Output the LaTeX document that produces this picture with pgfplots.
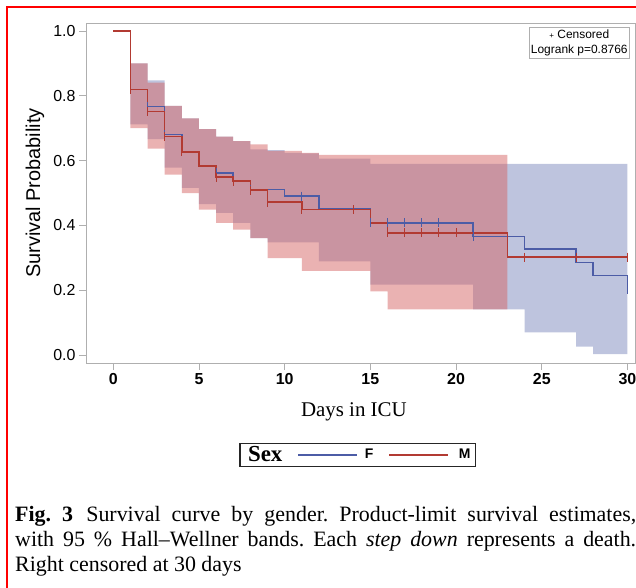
\documentclass[border=0pt]{standalone}
\usepackage{fontspec}
\setmainfont{Liberation Serif}
\setsansfont{Liberation Sans}
\usepackage{pgfplots}
\pgfplotsset{compat=1.18}

\definecolor{fline}{RGB}{76,92,166}
\definecolor{mline}{RGB}{178,58,50}
\definecolor{fband}{RGB}{125,137,189}
\definecolor{mband}{RGB}{213,101,101}
\definecolor{framegray}{RGB}{175,175,175}

\begin{document}
\begin{tikzpicture}
\path[use as bounding box] (0,0) rectangle (636bp,-588bp);
% red frame of the figure (top and left only)
\draw[red, line width=2bp] (7bp,-588bp) -- (7bp,-7bp) -- (636bp,-7bp);

\begin{axis}[
    at={(86bp,-363bp)}, anchor=south west,
    scale only axis, width=549bp, height=340bp,
    xmin=-1.59, xmax=30.44, ymin=-0.0247, ymax=1.0247,
    xtick={0,5,10,15,20,25,30},
    ytick={0,0.2,0.4,0.6,0.8,1.0},
    tick pos=left, tick align=outside,
    major tick length=7bp,
    axis line style={draw=framegray, line width=0.8bp},
    tick style={framegray, line width=0.8bp},
    /pgf/number format/assume math mode=true,
    xticklabel style={font=\fontsize{16}{16}\selectfont\sffamily\bfseries},
    yticklabel style={font=\fontsize{16}{16}\selectfont\sffamily,
      /pgf/number format/.cd, fixed, fixed zerofill, precision=1},
    ylabel={Survival Probability},
    every axis y label/.style={at={(axis description cs:-0.0929,0.5)},
      rotate=90, anchor=center, font=\fontsize{20}{20}\selectfont\sffamily},
    xlabel={Days in ICU},
    every axis x label/.style={at={(axis description cs:0.488,-0.143)},
      anchor=center, font=\fontsize{21}{21}\selectfont\rmfamily},
    legend columns=3,
    legend style={at={(axis description cs:0.495,-0.27)}, anchor=center,
      draw=black!85, line width=1.2bp, inner xsep=3bp, inner ysep=1bp,
      /tikz/every even column/.append style={column sep=13bp}},
    legend image code/.code={\draw[#1] (0bp,0bp) -- (59bp,0bp);},
  ]
  % 95% Hall-Wellner bands
  \addplot[fill=fband, fill opacity=0.5, draw=none, forget plot] coordinates {
    (1,0.90)(2,0.90)(2,0.848)(3,0.848)(3,0.769)(4,0.769)(4,0.73)(5,0.73)
    (5,0.697)(6,0.697)(6,0.674)(7,0.674)(7,0.66)(8,0.66)(8,0.635)(9,0.635)
    (9,0.632)(10,0.632)(10,0.624)(11,0.624)(11,0.622)(12,0.622)(12,0.606)
    (15,0.606)(15,0.59)(30,0.59)
    (30,0.003)(28,0.003)(28,0.026)(27,0.026)(27,0.07)(24,0.07)(24,0.141)
    (21,0.141)(21,0.217)(15,0.217)(15,0.289)(12,0.289)(12,0.348)(9,0.348)
    (9,0.361)(8,0.361)(8,0.408)(7,0.408)(7,0.439)(6,0.439)(6,0.466)(5,0.466)
    (5,0.516)(4,0.516)(4,0.578)(3,0.578)(3,0.666)(2,0.666)(2,0.712)(1,0.712)
  } -- cycle;
  \addplot[fill=mband, fill opacity=0.5, draw=none, forget plot] coordinates {
    (1,0.90)(2,0.90)(2,0.841)(3,0.841)(3,0.769)(4,0.769)(4,0.73)(5,0.73)
    (5,0.697)(6,0.697)(6,0.674)(7,0.674)(7,0.66)(8,0.66)(8,0.65)(9,0.65)
    (9,0.63)(11,0.63)(11,0.624)(12,0.624)(12,0.618)(23,0.618)
    (23,0.141)(16,0.141)(16,0.196)(15,0.196)(15,0.26)(11,0.26)(11,0.299)
    (9,0.299)(9,0.361)(8,0.361)(8,0.387)(7,0.387)(7,0.408)(6,0.408)
    (6,0.449)(5,0.449)(5,0.50)(4,0.50)(4,0.557)(3,0.557)(3,0.637)(2,0.637)
    (2,0.70)(1,0.70)
  } -- cycle;

  % product-limit estimates
  \addplot[const plot, fline, line width=1.6bp, forget plot] coordinates {
    (0,1)(1,0.82)(2,0.767)(3,0.681)(4,0.627)(5,0.583)(6,0.562)(7,0.537)
    (8,0.511)(10,0.49)(12,0.451)(15,0.408)(21,0.366)(24,0.328)(27,0.286)
    (28,0.245)(30,0.201)
  };
  \addplot[const plot, mline, line width=1.6bp, forget plot] coordinates {
    (0,1)(1,0.82)(2,0.752)(3,0.674)(4,0.627)(5,0.583)(6,0.549)(7,0.537)
    (8,0.509)(9,0.472)(11,0.449)(15,0.408)(16,0.377)(23,0.302)(30,0.302)
  };

  % censored observations
  \addplot[only marks, mark=|, mark size=4.5bp, fline, line width=1bp, forget plot] coordinates {
    (1,0.82)(2,0.767)(3,0.681)(4,0.627)(6,0.562)(7,0.537)(8,0.511)(11,0.49)
    (15,0.408)(16,0.408)(17,0.408)(18,0.408)(19,0.408)(21,0.366)(30,0.201)
  };
  \addplot[only marks, mark=|, mark size=4.5bp, mline, line width=1bp, forget plot] coordinates {
    (1,0.82)(2,0.752)(3,0.674)(4,0.627)(6,0.549)(7,0.537)(8,0.509)(9,0.472)
    (11,0.449)(14,0.449)(16,0.377)(17,0.377)(18,0.377)(19,0.377)(20,0.377)
    (24,0.302)(27,0.302)(30,0.302)
  };

  \addlegendimage{empty legend}
  \addlegendentry{\hspace{3bp}\fontsize{23}{23}\selectfont\rmfamily\bfseries Sex\hspace{2bp}}
  \addlegendimage{fline, line width=1.5bp}
  \addlegendentry{\hspace{5bp}\fontsize{14}{14}\selectfont\sffamily\bfseries F\hspace{2bp}}
  \addlegendimage{mline, line width=1.5bp}
  \addlegendentry{\hspace{8bp}\fontsize{14}{14}\selectfont\sffamily\bfseries M}

  \node[draw=framegray, line width=0.8bp, fill=white, align=center,
    anchor=north east, inner xsep=2bp, inner ysep=2.5bp,
    font=\fontsize{12}{15}\selectfont\sffamily]
    at (rel axis cs:0.991,0.988) {{\fontsize{8}{8}\selectfont+} Censored\\Logrank p=0.8766};
\end{axis}

\node[anchor=north west, inner sep=0pt, text width=621bp, align=justify,
  font=\fontsize{22}{25}\selectfont\rmfamily] at (15bp,-506bp)
  {\frenchspacing\textbf{Fig.~3}\hspace{0.6em}Survival curve by gender. Product-limit survival estimates,\linebreak
   with 95~\% Hall--Wellner bands. Each \textit{step down} represents a death.\linebreak
   Right censored at 30 days};
\end{tikzpicture}
\end{document}
